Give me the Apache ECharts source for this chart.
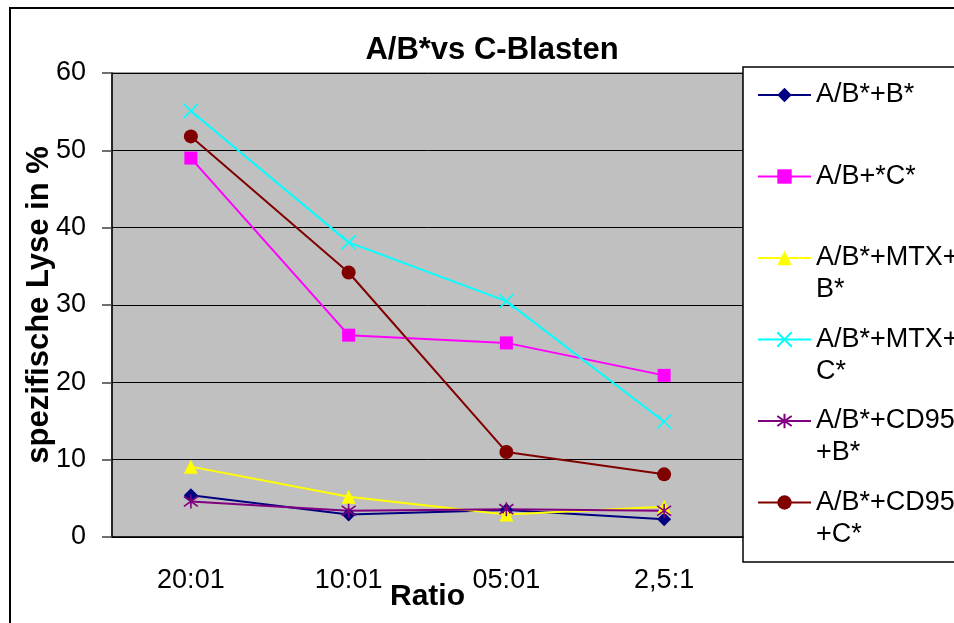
<!DOCTYPE html>
<html lang="de">
<head>
  <meta charset="UTF-8">
  <title>A/B*vs C-Blasten</title>
  <script src="https://cdn.jsdelivr.net/npm/echarts@6/dist/echarts.min.js"></script>
  <style>
    body { margin: 0; padding: 0; background: #fff; }
    #chart { width: 954px; height: 623px; }
  </style>
</head>
<body>
  <div id="chart"></div>
  <script>
    // Kategorien (Ratio)
    const ratios = ['20:01', '10:01', '05:01', '2,5:1'];

    // spezifische Lyse in %
    const abB = [5.4, 2.9, 3.5, 2.3];
    const abC = [49, 26.1, 25.1, 20.9];
    const mtxB = [9.1, 5.2, 2.9, 3.9];
    const mtxC = [55.1, 38.1, 30.5, 14.9];
    const cd95B = [4.6, 3.4, 3.6, 3.4];
    const cd95C = [51.8, 34.2, 11, 8.1];

    const seriesNames = ['A/B*+B*', 'A/B+*C*', 'A/B*+MTX+B*', 'A/B*+MTX+C*', 'A/B*+CD95+B*', 'A/B*+CD95+C*'];
    // Legendentext: leere Zeile oben/unten, damit das Symbol auf Höhe der ersten Zeile sitzt
    const legendLabels = {
      'A/B*+B*': ' \nA/B*+B*\n ',
      'A/B+*C*': ' \nA/B+*C*\n ',
      'A/B*+MTX+B*': ' \nA/B*+MTX+\nB*',
      'A/B*+MTX+C*': ' \nA/B*+MTX+\nC*',
      'A/B*+CD95+B*': ' \nA/B*+CD95\n+B*',
      'A/B*+CD95+C*': ' \nA/B*+CD95\n+C*'
    };

    const font = '"Liberation Sans", Arial, sans-serif';
    const crossPath = 'path://M0,0L10,10M10,0L0,10';
    const starPath = 'path://M5,0L5,10M0,1.5L10,8.5M0,8.5L10,1.5';

    const chart = echarts.init(document.getElementById('chart'));

    function line(name, data, color, symbol, size, stroked) {
      return {
        name: name,
        type: 'line',
        data: data,
        symbol: symbol,
        symbolSize: size,
        lineStyle: { color: color, width: 2 },
        itemStyle: {
          color: color,
          borderColor: color,
          borderWidth: stroked ? 1.6 : 0
        },
        emphasis: { disabled: true }
      };
    }

    const option = {
      animation: false,
      backgroundColor: '#fff',
      graphic: [{
        type: 'rect',
        shape: { x: 10, y: 8, width: 970, height: 640 },
        style: { fill: 'none', stroke: '#000', lineWidth: 2 },
        silent: true
      }, {
        // Legendenrahmen
        type: 'rect',
        shape: { x: 743, y: 67, width: 240, height: 495 },
        style: { fill: '#fff', stroke: '#000', lineWidth: 1.5 },
        silent: true
      }],
      title: {
        text: 'A/B*vs C-Blasten',
        left: 487,
        top: 30,
        textAlign: 'center',
        textStyle: { fontFamily: font, fontSize: 31, fontWeight: 'bold', color: '#000' }
      },
      legend: {
        orient: 'vertical',
        left: 757,
        top: 47,
        padding: 0,
        itemWidth: 53,
        itemHeight: 18,
        itemGap: -14.5,
        data: seriesNames,
        formatter: function (name) { return legendLabels[name]; },
        textStyle: {
          fontFamily: font,
          fontSize: 27,
          color: '#000',
          lineHeight: 32
        }
      },
      grid: {
        left: 112,
        top: 73,
        right: 211,
        bottom: 86,
        outerBoundsMode: 'none',
        show: true,
        backgroundColor: '#C0C0C0',
        borderColor: '#808080',
        borderWidth: 1.5
      },
      xAxis: {
        type: 'category',
        data: ratios,
        name: 'Ratio',
        nameLocation: 'middle',
        nameGap: 45,
        nameMoveOverlap: false,
        nameTextStyle: { fontFamily: font, fontSize: 30, fontWeight: 'bold', color: '#000' },
        axisLine: { lineStyle: { color: '#000', width: 1.5 } },
        axisTick: { length: 11, lineStyle: { color: '#404040', width: 1.5 } },
        axisLabel: { fontFamily: font, fontSize: 27, color: '#000', margin: 30 }
      },
      yAxis: {
        type: 'value',
        min: 0,
        max: 60,
        interval: 10,
        name: 'spezifische Lyse in %',
        nameLocation: 'middle',
        nameGap: 57,
        nameMoveOverlap: false,
        nameTextStyle: { fontFamily: font, fontSize: 31, fontWeight: 'bold', color: '#000' },
        axisLine: { show: true, lineStyle: { color: '#000', width: 1.5 } },
        axisTick: { show: true, length: 10, lineStyle: { color: '#404040', width: 1.5 } },
        axisLabel: { fontFamily: font, fontSize: 27, color: '#000', margin: 26 },
        splitLine: { lineStyle: { color: '#000', width: 1 } }
      },
      series: [
        line(seriesNames[0], abB, '#000080', 'diamond', 14, false),
        line(seriesNames[1], abC, '#FF00FF', 'rect', 13, false),
        line(seriesNames[2], mtxB, '#FFFF00', 'triangle', 14, false),
        line(seriesNames[3], mtxC, '#00FFFF', crossPath, 14, true),
        line(seriesNames[4], cd95B, '#800080', starPath, 14, true),
        line(seriesNames[5], cd95C, '#800000', 'circle', 14, false)
      ]
    };

    chart.setOption(option);
  </script>
</body>
</html>
